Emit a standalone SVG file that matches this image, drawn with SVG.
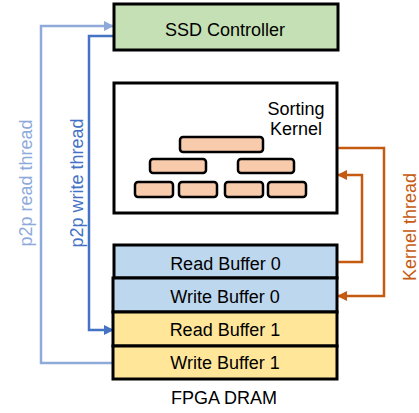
<svg xmlns="http://www.w3.org/2000/svg" width="419" height="413" viewBox="0 0 419 413">
<style>
text{font-family:"Liberation Sans",Arial,sans-serif;font-size:18px;fill:#000}
.box{stroke:#000;stroke-width:3}
.brick{fill:#f8cbad;stroke:#000;stroke-width:2.5}
.c{fill:none;stroke-width:2.5}
</style>
<defs>
<marker id="aL" viewBox="0 0 10 10" refX="9" refY="5" markerWidth="4" markerHeight="4" orient="auto" markerUnits="strokeWidth"><path d="M0,0 L10,5 L0,10 z" fill="#8eaadb"/></marker>
<marker id="aB" viewBox="0 0 10 10" refX="9" refY="5" markerWidth="4" markerHeight="4" orient="auto" markerUnits="strokeWidth"><path d="M0,0 L10,5 L0,10 z" fill="#4472c4"/></marker>
<marker id="aO" viewBox="0 0 10 10" refX="9" refY="5" markerWidth="4" markerHeight="4" orient="auto" markerUnits="strokeWidth"><path d="M0,0 L10,5 L0,10 z" fill="#c55a11"/></marker>
</defs>
<rect width="419" height="413" fill="#fff"/>
<g id="connectors">
<path class="c" stroke="#8eaadb" d="M114,363 H41 V26 H113" marker-end="url(#aL)"/>
<path class="c" stroke="#4472c4" d="M114,36 H89 V330 H113" marker-end="url(#aB)"/>
<path class="c" stroke="#c55a11" d="M338,148 H384 V296 H338" marker-end="url(#aO)"/>
<path class="c" stroke="#c55a11" d="M338,262 H362 V175 H338" marker-end="url(#aO)"/>
</g>
<g id="ssd">
<rect class="box" x="114" y="4" width="224" height="46" fill="#c5e0b4"/>
<text x="225" y="36" text-anchor="middle">SSD Controller</text>
</g>
<g id="kernel">
<rect class="box" x="114" y="83" width="223" height="130" fill="#fff"/>
<text x="296" y="115" text-anchor="middle">Sorting</text>
<text x="296" y="135" text-anchor="middle">Kernel</text>
<rect class="brick" x="180" y="137" width="83" height="15" rx="3"/>
<rect class="brick" x="150" y="159" width="56" height="14" rx="3"/>
<rect class="brick" x="238" y="159" width="56" height="14" rx="3"/>
<rect class="brick" x="135" y="182" width="38" height="15" rx="3"/>
<rect class="brick" x="179" y="182" width="38" height="15" rx="3"/>
<rect class="brick" x="225" y="182" width="38" height="15" rx="3"/>
<rect class="brick" x="268" y="182" width="38" height="15" rx="3"/>
</g>
<g id="rb0">
<rect class="box" x="114" y="245" width="223" height="33" fill="#bdd7ee"/>
<text x="225.5" y="270" text-anchor="middle">Read Buffer 0</text>
</g>
<g id="wb0">
<rect class="box" x="113" y="278" width="224" height="34" fill="#bdd7ee"/>
<text x="225" y="303" text-anchor="middle">Write Buffer 0</text>
</g>
<g id="rb1">
<rect class="box" x="113" y="312" width="224" height="34" fill="#ffe699"/>
<text x="225" y="336" text-anchor="middle">Read Buffer 1</text>
</g>
<g id="wb1">
<rect class="box" x="113" y="346" width="224" height="33" fill="#ffe699"/>
<text x="225" y="369" text-anchor="middle">Write Buffer 1</text>
</g>
<g id="labels">
<text x="224" y="404" text-anchor="middle">FPGA DRAM</text>
<text transform="translate(31.5,183) rotate(-90)" text-anchor="middle" style="fill:#8eaadb">p2p read thread</text>
<text transform="translate(83,183) rotate(-90)" text-anchor="middle" style="fill:#4472c4">p2p write thread</text>
<text transform="translate(416,227) rotate(-90)" text-anchor="middle" style="fill:#c55a11">Kernel thread</text>
</g>
</svg>
